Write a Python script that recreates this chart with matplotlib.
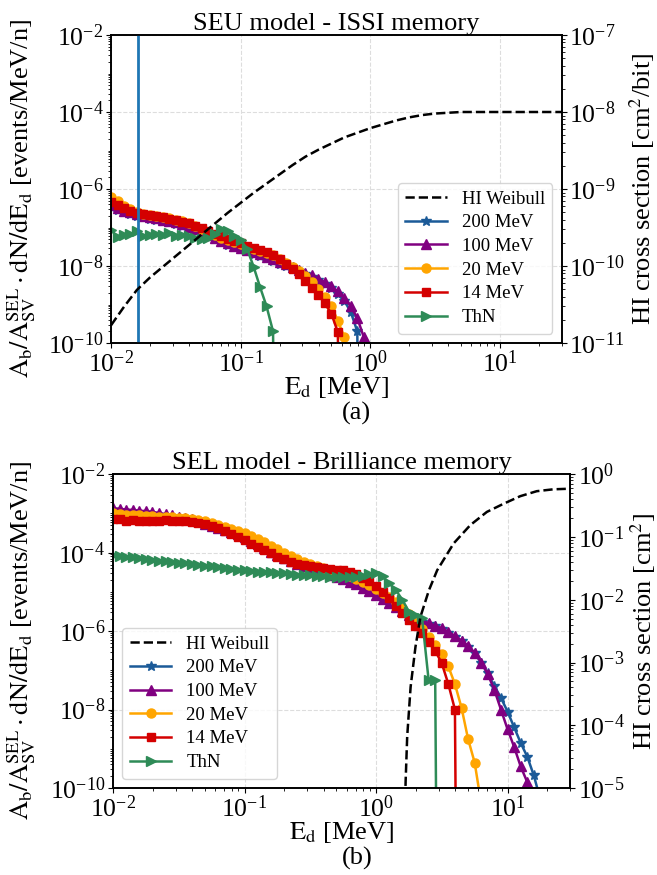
import numpy as np
import matplotlib
matplotlib.use('Agg')
import matplotlib.pyplot as plt
from matplotlib.ticker import LogLocator, NullFormatter

plt.rcParams['font.family'] = ['Liberation Serif', 'DejaVu Serif']
plt.rcParams['mathtext.fontset'] = 'stix'

# ---------------- data ----------------
# energy bins, log10(E_d / MeV), 20 bins per decade starting at 10^-2
grid_log10E = np.round(np.arange(-2.0, 1.6, 0.05), 3)

series_labels = ["200 MeV", "100 MeV", "20 MeV", "14 MeV", "ThN"]
series_colors = ["#1b5a98", "#800080", "#ffa500", "#d40000", "#2e8b57"]
series_markers = ["*", "^", "o", "s", ">"]

# (a) SEU model - ISSI memory : log10 of spectrum value, -30 = zero
seu_200 = [-6.46, -6.54, -6.60, -6.65, -6.70, -6.74, -6.77, -6.80, -6.84, -6.87,
           -6.91, -6.96, -7.02, -7.09, -7.16, -7.23, -7.31, -7.38, -7.45, -7.51,
           -7.57, -7.62, -7.68, -7.74, -7.80, -7.87, -7.94, -8.00, -8.07, -8.14,
           -8.21, -8.28, -8.37, -8.47, -8.58, -8.72, -8.90, -9.20, -9.70, -30]
seu_100 = [-6.42, -6.50, -6.56, -6.61, -6.66, -6.70, -6.73, -6.76, -6.80, -6.83,
           -6.87, -6.92, -6.98, -7.05, -7.12, -7.19, -7.27, -7.34, -7.41, -7.47,
           -7.53, -7.58, -7.64, -7.70, -7.76, -7.83, -7.90, -7.96, -8.03, -8.10,
           -8.17, -8.24, -8.33, -8.42, -8.53, -8.66, -8.82, -9.05, -9.35, -9.85, -30]
seu_20 = [-6.20, -6.32, -6.44, -6.53, -6.60, -6.64, -6.67, -6.70, -6.73, -6.76,
          -6.80, -6.84, -6.89, -6.96, -7.04, -7.12, -7.19, -7.26, -7.32, -7.38,
          -7.44, -7.50, -7.55, -7.60, -7.65, -7.72, -7.81, -7.91, -8.02, -8.14,
          -8.27, -8.42, -8.60, -8.80, -9.05, -9.42, -9.85, -30]
seu_14 = [-6.33, -6.42, -6.50, -6.57, -6.62, -6.65, -6.68, -6.71, -6.74, -6.77,
          -6.81, -6.85, -6.89, -6.95, -7.02, -7.09, -7.16, -7.23, -7.29, -7.35,
          -7.41, -7.48, -7.54, -7.58, -7.63, -7.71, -7.82, -7.95, -8.08, -8.22,
          -8.39, -8.56, -8.75, -8.97, -9.24, -9.72, -30]
seu_thn = [-7.06, -7.25, -7.20, -7.18, -7.08, -7.22, -7.20, -7.17, -7.19, -7.15,
           -7.22, -7.20, -7.23, -7.26, -7.30, -7.28, -7.17, -7.04, -7.08, -7.22,
           -7.33, -7.55, -8.02, -8.55, -9.05, -9.70, -30]

seu_weibull_log10E = [-2.0, -1.9, -1.8, -1.7, -1.6, -1.5, -1.4, -1.3, -1.2, -1.1,
                      -1.0, -0.9, -0.8, -0.7, -0.6, -0.5, -0.4, -0.3, -0.2, -0.1,
                      0.0, 0.1, 0.2, 0.3, 0.4, 0.5, 0.6, 0.7, 0.8, 0.9,
                      1.0, 1.1, 1.2, 1.3, 1.4, 1.5]
seu_weibull_log10 = [-10.77, -10.53, -10.31, -10.15, -10.01, -9.87, -9.73, -9.59, -9.45, -9.31,
                     -9.18, -9.05, -8.93, -8.81, -8.69, -8.58, -8.49, -8.41, -8.33, -8.27,
                     -8.21, -8.16, -8.11, -8.07, -8.04, -8.02, -8.01, -8.00, -8.00, -8.00,
                     -8.00, -8.00, -8.00, -8.00, -8.00, -8.00]
seu_cut_E = 0.0162  # vertical line (MeV)

# (b) SEL model - Brilliance memory
sel_100 = [-2.87, -2.88, -2.90, -2.91, -2.93, -2.94, -2.96, -2.99, -3.02, -3.05,
           -3.08, -3.11, -3.15, -3.20, -3.26, -3.31, -3.36, -3.41, -3.46, -3.52,
           -3.60, -3.69, -3.79, -3.89, -3.98, -4.06, -4.14, -4.22, -4.29, -4.35,
           -4.41, -4.46, -4.51, -4.56, -4.61, -4.67, -4.74, -4.81, -4.89, -4.98,
           -5.07, -5.17, -5.27, -5.38, -5.49, -5.58, -5.66, -5.74, -5.80, -5.86,
           -5.93, -6.02, -6.12, -6.24, -6.38, -6.55, -6.80, -7.10, -7.50, -8.00,
           -8.50, -8.95, -9.45, -9.85, -10.4]
sel_200 = [-2.92, -2.93, -2.95, -2.96, -2.98, -2.99, -3.01, -3.04, -3.07, -3.10,
           -3.13, -3.15, -3.18, -3.22, -3.28, -3.33, -3.38, -3.43, -3.48, -3.54,
           -3.62, -3.71, -3.81, -3.91, -4.00, -4.08, -4.16, -4.24, -4.31, -4.37,
           -4.43, -4.48, -4.53, -4.58, -4.63, -4.69, -4.76, -4.83, -4.91, -5.00,
           -5.09, -5.19, -5.29, -5.40, -5.51, -5.60, -5.68, -5.76, -5.82, -5.88,
           -5.95, -6.04, -6.14, -6.26, -6.40, -6.57, -6.80, -7.08, -7.40, -7.70,
           -8.05, -8.45, -8.85, -9.20, -9.68, -10.3]
sel_20 = [-3.00, -3.01, -3.03, -3.03, -3.05, -3.06, -3.07, -3.08, -3.09, -3.10,
          -3.11, -3.12, -3.14, -3.16, -3.19, -3.24, -3.29, -3.34, -3.39, -3.44,
          -3.51, -3.58, -3.66, -3.74, -3.82, -3.91, -4.00, -4.08, -4.16, -4.23,
          -4.29, -4.34, -4.39, -4.44, -4.49, -4.54, -4.60, -4.67, -4.75, -4.83,
          -4.92, -5.02, -5.13, -5.26, -5.40, -5.57, -5.75, -5.95, -6.15, -6.35,
          -6.58, -6.90, -7.35, -7.95, -8.75, -9.35, -10.4]
sel_14 = [-3.13, -3.15, -3.18, -3.17, -3.18, -3.20, -3.19, -3.18, -3.17, -3.18,
          -3.19, -3.20, -3.22, -3.24, -3.27, -3.31, -3.36, -3.44, -3.52, -3.60,
          -3.68, -3.77, -3.85, -3.94, -4.02, -4.10, -4.17, -4.23, -4.28, -4.32,
          -4.35, -4.37, -4.39, -4.41, -4.43, -4.45, -4.48, -4.55, -4.64, -4.73,
          -4.85, -4.99, -5.16, -5.36, -5.55, -5.72, -5.86, -6.05, -6.27, -6.50,
          -6.82, -7.35, -8.00, -30]
sel_thn = [-4.06, -4.08, -4.10, -4.12, -4.14, -4.16, -4.18, -4.20, -4.22, -4.24,
           -4.26, -4.27, -4.29, -4.31, -4.33, -4.35, -4.37, -4.39, -4.41, -4.43,
           -4.45, -4.46, -4.48, -4.49, -4.50, -4.52, -4.53, -4.54, -4.56, -4.57,
           -4.58, -4.59, -4.60, -4.61, -4.62, -4.63, -4.63, -4.62, -4.60, -4.55,
           -4.51, -4.60, -4.78, -4.95, -5.20, -5.50, -5.60, -5.66, -7.25, -7.25, -30]

sel_weibull_log10E = [0.218, 0.225, 0.237, 0.263, 0.300, 0.338, 0.402, 0.465, 0.591,
                      0.717, 0.843, 0.970, 1.096, 1.222, 1.348, 1.48]
sel_weibull_log10 = [-5.6, -4.9, -4.18, -3.39, -2.75, -2.27, -1.85, -1.53, -1.10,
                     -0.81, -0.60, -0.47, -0.35, -0.27, -0.24, -0.23]

seu_series = [seu_200, seu_100, seu_20, seu_14, seu_thn]
sel_series = [sel_200, sel_100, sel_20, sel_14, sel_thn]
marker_sizes = [7.5, 6.5, 6.5, 5.5, 6.5]

# ---------------- figure ----------------
fig = plt.figure(figsize=(6.57, 8.75), dpi=100)
ax_a = fig.add_axes([0.169, 0.608, 0.686, 0.352])
ax_b = fig.add_axes([0.172, 0.0994, 0.696, 0.3586])

FS = 19
TFS = 18.5


def style_axes(ax, ax2, ylim2):
    ax.set_xscale('log')
    ax.set_yscale('log')
    ax.set_xlim(1e-2, 30)
    ax.set_ylim(1e-10, 1e-2)
    ax.set_yticks([1e-10, 1e-8, 1e-6, 1e-4, 1e-2])
    ax.yaxis.set_minor_locator(LogLocator(base=10, subs=np.arange(1, 10), numticks=100))
    ax.yaxis.set_minor_formatter(NullFormatter())
    ax.xaxis.set_major_locator(LogLocator(base=10, numticks=10))
    ax.xaxis.set_minor_locator(LogLocator(base=10, subs=np.arange(2, 10), numticks=100))
    ax.xaxis.set_minor_formatter(NullFormatter())
    ax.tick_params(labelsize=TFS, pad=2)
    ax.grid(True, which='major', linestyle='--', color='#dddddd', linewidth=0.8)
    ax2.set_yscale('log')
    ax2.set_ylim(*ylim2)
    ax2.yaxis.set_major_locator(LogLocator(base=10, numticks=20))
    ax2.yaxis.set_minor_locator(LogLocator(base=10, subs=np.arange(2, 10), numticks=100))
    ax2.yaxis.set_minor_formatter(NullFormatter())
    ax2.tick_params(labelsize=TFS, pad=2)
    for a in (ax, ax2):
        for s in a.spines.values():
            s.set_linewidth(1.2)


ylab = r"$\mathrm{A_b/A_{SV}^{SEL}\cdot dN/dE_d}$ [events/MeV/n]"
xlab = r"$\mathrm{E_d}$ [MeV]"

panels = [
    (ax_a, seu_series, seu_weibull_log10E, seu_weibull_log10, (1e-11, 1e-7),
     "SEU model - ISSI memory", r"HI cross section [cm$^2$/bit]", 'lower right',
     1.146, -0.103, -0.163),
    (ax_b, sel_series, sel_weibull_log10E, sel_weibull_log10, (1e-5, 1e0),
     "SEL model - Brilliance memory", r"HI cross section [cm$^2$]", 'lower left',
     1.126, -0.103, -0.165),
]

for (ax, series, wx, wy, ylim2, title, rlabel, legloc,
     rlab_x, xlab_y, lab_x) in panels:
    handles = []
    for vals, lab, col, mk, ms in zip(series, series_labels, series_colors,
                                      series_markers, marker_sizes):
        n = len(vals)
        E = 10.0 ** grid_log10E[:n]
        y = 10.0 ** np.array(vals)
        h, = ax.plot(E, y, color=col, marker=mk, markersize=ms, linewidth=1.8,
                     label=lab)
        handles.append(h)
    ax2 = ax.twinx()
    hw, = ax2.plot(10.0 ** np.array(wx), 10.0 ** np.array(wy), 'k--',
                   linewidth=1.8, label="HI Weibull")
    style_axes(ax, ax2, ylim2)
    ax.set_title(title, fontsize=FS, pad=3)
    ax.set_ylabel(ylab, fontsize=FS)
    ax.yaxis.set_label_coords(lab_x, 0.47)
    ax.set_xlabel(xlab, fontsize=FS)
    ax.xaxis.set_label_coords(0.5, xlab_y)
    ax2.set_ylabel(rlabel, fontsize=FS)
    ax2.yaxis.set_label_coords(rlab_x, 0.5)
    if ax is ax_a:
        ax.axvline(seu_cut_E, color='#1f77b4', linewidth=2, zorder=5)
    ax2.legend([hw] + handles, ["HI Weibull"] + series_labels, loc=legloc,
               fontsize=13.5, handlelength=2.2, labelspacing=0.35)

fig.text(0.543, 0.528, "(a)", ha='center', va='center', fontsize=FS)
fig.text(0.543, 0.019, "(b)", ha='center', va='center', fontsize=FS)

fig.savefig("out.png", dpi=100)
